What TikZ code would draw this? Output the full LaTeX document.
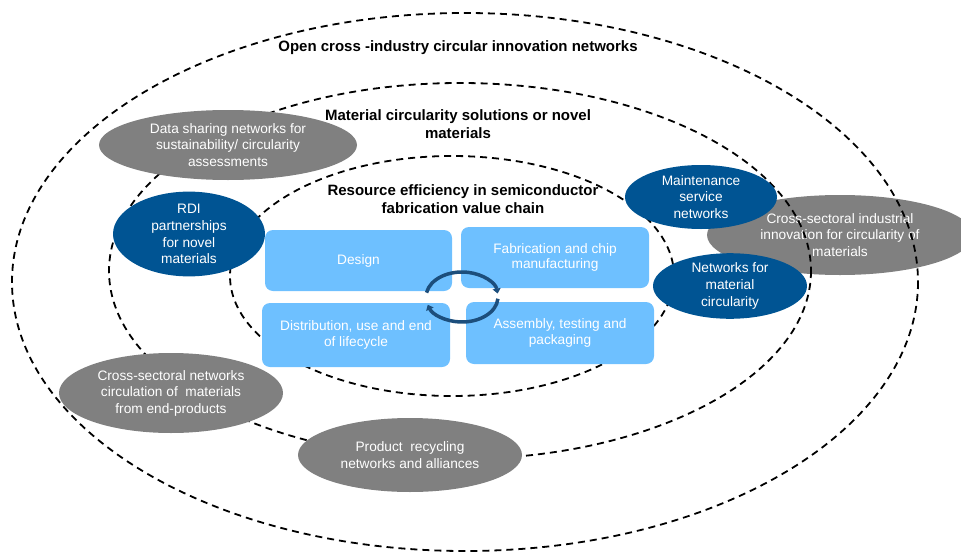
\documentclass[tikz,border=0pt]{standalone}
\usepackage{fontspec}
\setmainfont{Liberation Sans}
\usetikzlibrary{shapes.geometric,arrows.meta}
\definecolor{boxblue}{RGB}{110,192,255}
\definecolor{navy}{RGB}{0,84,147}
\definecolor{ellgray}{RGB}{128,128,128}
\definecolor{cyclecol}{RGB}{28,78,124}

\begin{document}
\begin{tikzpicture}[x=1pt,y=-1pt,
  ring/.style={draw=black,line width=1.8pt,dash pattern=on 7pt off 5pt},
  level/.style={font=\bfseries\fontsize{15}{18}\selectfont,align=center,text=black,inner sep=0pt},
  grayell/.style={ellipse,fill=ellgray,text=white,align=center,inner sep=0pt,
    font=\fontsize{13.7}{16.5}\selectfont},
  navyell/.style={ellipse,fill=navy,text=white,align=center,inner sep=0pt,
    font=\fontsize{13.7}{16.8}\selectfont},
  stagebox/.style={rectangle,rounded corners=8pt,fill=boxblue,text=white,align=center,
    inner sep=0pt,font=\fontsize{13.7}{15.5}\selectfont},
  cyc/.style={draw=cyclecol,line width=3.5pt,-{Triangle[length=5pt,width=8pt]}}
]
\useasboundingbox (0,0) rectangle (961,554);

% ellipse that sits behind the rings
\node[grayell,minimum width=266,minimum height=80] (industry) at (840,235)
  {Cross-sectoral industrial\\innovation for circularity of\\materials};

% the three nested levels
\draw[ring] (465,282) ellipse [x radius=453, y radius=269];
\draw[ring] (460,271) ellipse [x radius=351, y radius=188];
\draw[ring] (452,276) ellipse [x radius=222, y radius=120];

% value chain stages
\node[stagebox,minimum width=187,minimum height=61] (design) at (358.5,260.5) {Design};
\node[stagebox,minimum width=188,minimum height=61] (fab) at (555,257.5)
  {Fabrication and chip\\manufacturing};
\node[stagebox,minimum width=188,minimum height=64] (dist) at (356,335)
  {Distribution, use and end\\of lifecycle};
\node[stagebox,minimum width=188,minimum height=62] (assembly) at (560,333)
  {Assembly, testing and\\packaging};

% networks
\node[grayell,minimum width=258,minimum height=70] (data) at (228,145)
  {Data sharing networks for\\sustainability/ circularity\\assessments};
\node[grayell,minimum width=224,minimum height=80] (crossnet) at (171,393)
  {Cross-sectoral networks\\circulation of~ materials\\from end-products};
\node[grayell,minimum width=224,minimum height=74] (recycling) at (410,455)
  {Product~ recycling\\networks and alliances};
\node[navyell,minimum width=152,minimum height=66] (rdi) at (189,234)
  {RDI\\partnerships\\for novel\\materials};
\node[navyell,minimum width=152,minimum height=64] (maint) at (701,197)
  {Maintenance\\service\\networks};
\node[navyell,minimum width=154,minimum height=64] (matcirc) at (730,286)
  {Networks for\\material\\circularity};

% level titles
\node[level] (outerlbl) at (458,48) {Open cross -industry circular innovation networks};
\node[level] (midlbl) at (458,124) {Material circularity solutions or novel\\materials};
\node[level] (innerlbl) at (463,199) {Resource efficiency in semiconductor\\fabrication value chain};

% circular flow between the stages
\coordinate (cyc) at (462,297);
\draw[cyc] ([shift={(-170:36 and 25)}]cyc) arc[start angle=-170,end angle=-8,x radius=36,y radius=25];
\draw[cyc] ([shift={(4:36 and 25)}]cyc) arc[start angle=4,end angle=162,x radius=36,y radius=25];
\end{tikzpicture}
\end{document}
